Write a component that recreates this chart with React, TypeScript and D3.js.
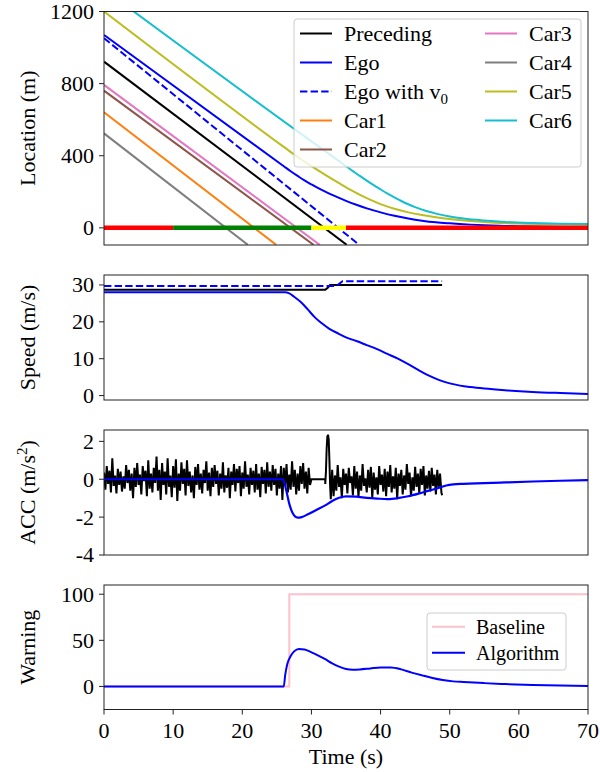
import React from "react";
import * as d3 from "d3";

type P = [number, number];

// ---------- DATA ----------
const xTicks = [0, 10, 20, 30, 40, 50, 60, 70];
const locTicks = [0, 400, 800, 1200];
const speedTicks = [0, 10, 20, 30];
const accTicks = [-4, -2, 0, 2];
const warnTicks = [0, 50, 100];

// Location (m) vs time (s)
const locPreceding: P[] = [[0, 922], [35.1, -94]];
const locEgoV0: P[] = [[0, 1052], [36.9, -94]];
const locCar1: P[] = [[0, 641], [24.9, -94]];
const locCar2: P[] = [[0, 761], [30.3, -94]];
const locCar3: P[] = [[0, 793], [31.2, -94]];
const locCar4: P[] = [[0, 524], [20.8, -94]];
const locEgo: P[] = [[0, 1070], [26, 342], [27, 314], [28, 288], [29, 263], [30, 241], [31, 220], [32, 201], [33, 183], [34, 166], [35, 150], [36.5, 128], [38, 108], [40, 86], [42, 67], [44, 52], [46, 40], [48, 31], [50, 25], [53, 18], [56, 13], [60, 9], [65, 6], [70, 4]];
const locCar5: P[] = [[0, 1200], [26, 449], [28, 393], [30, 342], [32, 294], [34, 248], [36, 204], [38, 165], [40, 132], [42, 106], [44, 86], [46, 71], [48, 59], [50, 49], [53, 38], [56, 30], [60, 24], [65, 20], [70, 17]];
const locCar6: P[] = [[0, 1322], [30, 480], [32, 425], [34, 370], [35, 342], [36, 315], [37, 288], [38, 262], [39, 237], [40, 213], [41, 190], [42, 169], [43, 149], [44, 131], [45, 115], [46, 101], [47, 89], [48, 79], [50, 63], [52, 52], [55, 41], [58, 33], [62, 27], [66, 23], [70, 21]];

// Traffic light phases
const lightStart = [0, 10, 30, 35];
const lightEnd = [10, 30, 35, 70];
const lightColor = ["#ff0000", "#008000", "#ffff00", "#ff0000"];

// Speed (m/s)
const speedPreceding: P[] = [[0, 28.7], [32.0, 28.7], [32.4, 29.3], [32.7, 30.0], [48.9, 30.0]];
const speedEgoV0: P[] = [[0, 29.7], [33.6, 29.7], [34.5, 31.0], [48.9, 31.0]];
const speedEgo: P[] = [[0, 28], [26.2, 28], [26.8, 27.7], [27.5, 26.8], [28.5, 25.3], [29.5, 23.3], [30.5, 21.2], [31.5, 19.6], [32.6, 18.1], [33.8, 16.9], [35, 15.8], [36.5, 14.8], [38, 13.7], [39.5, 12.6], [41, 11.3], [42.5, 10], [44, 8.5], [45.5, 6.9], [47, 5.4], [48.5, 4.2], [50, 3.3], [51.5, 2.7], [53, 2.3], [55, 1.9], [58, 1.45], [62, 1.0], [66, 0.7], [70, 0.45]];

// ACC (m/s^2): preceding, sampled every 0.2 s
const accPrecA = [
  0.35, -0.55, 0.7, -0.25, 0.45, -0.7, 1.1, -0.35, 0.2, -0.75,
  0.55, -0.3, 0.4, -0.65, 0.15, -0.5, 0.75, -0.2, 0.5, -0.6,
  0.3, -1.0, 0.6, -0.4, 0.85, -0.3, 0.25, -0.8, 0.7, -0.1,
  0.45, -0.9, 1.0, -0.5, 0.3, -0.7, 0.6, -0.2, 1.2, -0.6,
  0.5, -1.1, 0.85, -0.3, 0.4, -0.8, 1.1, -0.4, 0.2, -0.95,
  0.7, -0.45, 1.05, -1.15, 0.3, -0.6, 0.9, -0.25, 0.55, -0.85,
  1.0, -0.35, 0.4, -0.7, 0.2, -1.0, 0.65, -0.3, 0.8, -0.55,
  0.3, -0.75, 0.5, -0.2, 0.95, -0.6, 0.35, -0.9, 0.6, -0.4,
  0.75, -0.25, 0.45, -0.85, 0.3, -0.5, 0.9, -0.7, 0.2, -0.45,
  0.6, -1.0, 0.4, -0.3, 0.8, -0.65, 0.55, -0.2, 0.7, -0.9,
  0.35, -0.5, 0.95, -0.4, 0.25, -0.8, 0.6, -0.3, 0.45, -0.7,
  0.8, -0.55, 0.3, -0.95, 0.65, -0.25, 0.5, -0.75, 0.9, -0.4,
  0.4, -0.6, 0.75, -0.3, 0.55, -0.85, 0.3, -0.5, 0.7, -1.1,
  0.6, -0.35, 0.8, -0.7, 0.25, -0.55, 0.95, -0.4, 0.5, -0.8,
  0.3, -0.6, 0.7, -0.25, 0.85, -0.5, 0.4, -0.75, 0.6, -0.3,
];
const accPrecStartA = 0;
const accPrecMid: P[] = [[30.0, 0], [32.0, 0], [32.0, -0.25], [32.1, 0.4], [32.2, 1.6], [32.3, 2.25], [32.4, 2.35], [32.5, 2.1], [32.6, 1.0], [32.7, -0.3], [32.8, -1.05]];
const accPrecB = [
  0.5, -0.9, 0.2, -0.6, 0.75, -0.4, 0.1, -1.0, 0.55, -0.3,
  0.3, -0.75, 0.6, -0.2, 0.15, -0.85, 0.7, -0.5, 0.4, -0.95,
  0.2, -0.6, 0.8, -0.35, 0.05, -0.7, 0.5, -0.45, 0.65, -1.0,
  0.35, -0.55, 0.1, -0.8, 0.7, -0.3, 0.25, -0.65, 0.55, -0.9,
  0.4, -0.4, 0.75, -0.7, 0.15, -0.5, 0.6, -1.05, 0.3, -0.35,
  0.5, -0.8, 0.2, -0.55, 0.8, -0.25, 0.35, -0.9, 0.1, -0.6,
  0.65, -0.4, 0.3, -0.75, 0.55, -0.3, 0.7, -0.85, 0.2, -0.5,
  0.45, -0.65, 0.6, -0.35, 0.25, -0.8, 0.5, -0.45, 0.3, -0.7,
];
const accPrecStartB = 33.0;
const accSampleStep = 0.2;
const accEgo: P[] = [[0, 0], [25.9, 0], [26.3, -0.5], [26.8, -1.3], [27.3, -1.8], [28.0, -2.03], [28.6, -2.0], [29.5, -1.85], [30.7, -1.62], [32.0, -1.38], [33.0, -1.15], [34.0, -0.98], [35.0, -0.9], [36.5, -0.92], [38.0, -0.98], [39.5, -1.02], [41.0, -1.05], [42.5, -1.0], [44.0, -0.9], [45.5, -0.76], [47.0, -0.6], [48.5, -0.45], [49.5, -0.33], [50.5, -0.27], [52, -0.24], [55, -0.21], [58, -0.17], [62, -0.12], [66, -0.08], [70, -0.05]];

// Warning
const warnBaseline: P[] = [[0, 0], [26.8, 0], [26.8, 100], [70, 100]];
const warnAlgorithm: P[] = [[0, 0], [26.0, 0], [26.2, 12], [26.5, 24], [27.0, 33], [27.5, 38], [28.2, 40.5], [29.0, 40], [30.0, 37], [31.0, 33.5], [32.0, 29.5], [33.0, 25], [34.0, 21.5], [35.0, 19], [36.0, 18.2], [37.0, 18.5], [38.5, 19.5], [40, 20.5], [41.5, 20.5], [43, 18.5], [44.5, 15], [46, 12], [47.5, 9.2], [49, 7], [50.5, 5.5], [52, 4.8], [55, 3.6], [58, 2.6], [62, 1.5], [66, 0.9], [70, 0.6]];

// ---------- LAYOUT ----------
const FONT = "'Liberation Serif', 'Times New Roman', serif";
const X0 = 104, X1 = 588;
const x = d3.scaleLinear().domain([0, 70]).range([X0, X1]);
const yLoc = d3.scaleLinear().domain([-95, 1200]).range([245, 11.5]);
const ySpeed = d3.scaleLinear().domain([-1.2, 32.7]).range([400, 275]);
const yAcc = d3.scaleLinear().domain([-4, 2.6]).range([555, 430]);
const yWarn = d3.scaleLinear().domain([-25, 110]).range([709.5, 585]);

const BLUE = "#0000ff";
const C1 = "#ff7f0e", C2 = "#8c564b", C3 = "#e377c2", C4 = "#7f7f7f", C5 = "#bcbd22", C6 = "#17becf";

function mkLine(y: d3.ScaleLinear<number, number>, curve: d3.CurveFactory = d3.curveLinear) {
  return d3.line<P>().x((d) => x(d[0])).y((d) => y(d[1])).curve(curve);
}

function sampled(vals: number[], start: number): P[] {
  return vals.map((v, i) => [start + i * accSampleStep, v] as P);
}

function Frame({ y, id, ticks }: { y: d3.ScaleLinear<number, number>; id: string; ticks: number[] }) {
  const [b, t] = y.range();
  return (
    <g>
      <rect x={X0} y={t} width={X1 - X0} height={b - t} fill="none" stroke="#222" strokeWidth={1} />
      {ticks.map((v) => (
        <g key={id + v}>
          <line x1={X0 - 5} x2={X0} y1={y(v)} y2={y(v)} stroke="#222" strokeWidth={1} />
          <text x={X0 - 10} y={y(v)} dy="0.34em" textAnchor="end" fontSize={22} fontFamily={FONT} fill="#000">
            {String(v)}
          </text>
        </g>
      ))}
    </g>
  );
}

function YLabel({ y, children }: { y: d3.ScaleLinear<number, number>; children: React.ReactNode }) {
  const [b, t] = y.range();
  const cy = (b + t) / 2;
  return (
    <text transform={`translate(35,${cy}) rotate(-90)`} textAnchor="middle" fontSize={22} fontFamily={FONT} fill="#000">
      {children}
    </text>
  );
}

function Clip({ id, y }: { id: string; y: d3.ScaleLinear<number, number> }) {
  const [b, t] = y.range();
  return (
    <clipPath id={id}>
      <rect x={X0} y={t} width={X1 - X0} height={b - t} />
    </clipPath>
  );
}

export default function App() {
  const lLoc = mkLine(yLoc);
  const lLocS = mkLine(yLoc, d3.curveMonotoneX);
  const lSpd = mkLine(ySpeed);
  const lSpdS = mkLine(ySpeed, d3.curveMonotoneX);
  const lAcc = mkLine(yAcc);
  const lAccS = mkLine(yAcc, d3.curveMonotoneX);
  const lWarn = mkLine(yWarn);
  const lWarnS = mkLine(yWarn, d3.curveMonotoneX);

  const accPrec: P[] = [...sampled(accPrecA, accPrecStartA), ...accPrecMid, ...sampled(accPrecB, accPrecStartB), [48.9, -0.85]];

  const legend1 = [
    { label: "Preceding", color: "#000", dash: "" },
    { label: "Ego", color: BLUE, dash: "" },
    { label: "EGOV0", color: BLUE, dash: "7.4,3.2" },
    { label: "Car1", color: C1, dash: "" },
    { label: "Car2", color: C2, dash: "" },
    { label: "Car3", color: C3, dash: "" },
    { label: "Car4", color: C4, dash: "" },
    { label: "Car5", color: C5, dash: "" },
    { label: "Car6", color: C6, dash: "" },
  ];

  return (
    <svg width={600} height={772} viewBox="0 0 600 772" style={{ display: "block", position: "absolute", left: 0, top: 0 }}>
      <rect x={0} y={0} width={600} height={772} fill="#fff" />
      <defs>
        <Clip id="c1" y={yLoc} />
        <Clip id="c2" y={ySpeed} />
        <Clip id="c3" y={yAcc} />
        <Clip id="c4" y={yWarn} />
      </defs>

      {/* Panel 1: Location */}
      <g clipPath="url(#c1)" fill="none" strokeWidth={2}>
        <path d={lLoc(locPreceding) || ""} stroke="#000" />
        <path d={lLocS(locEgo) || ""} stroke={BLUE} />
        <path d={lLoc(locEgoV0) || ""} stroke={BLUE} strokeDasharray="7.4,3.2" />
        <path d={lLoc(locCar1) || ""} stroke={C1} />
        <path d={lLoc(locCar2) || ""} stroke={C2} />
        <path d={lLoc(locCar3) || ""} stroke={C3} />
        <path d={lLoc(locCar4) || ""} stroke={C4} />
        <path d={lLocS(locCar5) || ""} stroke={C5} />
        <path d={lLocS(locCar6) || ""} stroke={C6} />
        {lightStart.map((s, i) => (
          <line key={"l" + i} x1={x(s)} x2={x(lightEnd[i])} y1={yLoc(0)} y2={yLoc(0)} stroke={lightColor[i]} strokeWidth={4.5} />
        ))}
      </g>
      <Frame y={yLoc} id="a" ticks={locTicks} />
      <YLabel y={yLoc}>Location (m)</YLabel>
      {/* Legend 1 */}
      <g>
        <rect x={294} y={19} width={287} height={148} rx={3} fill="#fff" fillOpacity={0.8} stroke="#cccccc" strokeWidth={1} />
        {legend1.map((e, i) => {
          const col = i < 5 ? 0 : 1;
          const row = i < 5 ? i : i - 5;
          const cy = 33.5 + row * 29;
          const hx = col === 0 ? 300 : 485;
          const tx = col === 0 ? 344 : 529;
          return (
            <g key={"lg" + i}>
              <line x1={hx} x2={hx + 32} y1={cy} y2={cy} stroke={e.color} strokeWidth={2} strokeDasharray={e.dash || undefined} />
              <text x={tx} y={cy} dy="0.34em" fontSize={22} fontFamily={FONT} fill="#000">
                {e.label === "EGOV0" ? (
                  <>
                    Ego with v<tspan fontSize={15} dy="5">0</tspan>
                  </>
                ) : (
                  e.label
                )}
              </text>
            </g>
          );
        })}
      </g>

      {/* Panel 2: Speed */}
      <g clipPath="url(#c2)" fill="none" strokeWidth={2}>
        <path d={lSpd(speedPreceding) || ""} stroke="#000" />
        <path d={lSpdS(speedEgo) || ""} stroke={BLUE} />
        <path d={lSpd(speedEgoV0) || ""} stroke={BLUE} strokeDasharray="7.4,3.2" />
      </g>
      <Frame y={ySpeed} id="b" ticks={speedTicks} />
      <YLabel y={ySpeed}>Speed (m/s)</YLabel>

      {/* Panel 3: ACC */}
      <g clipPath="url(#c3)" fill="none">
        <path d={lAcc(accPrec) || ""} stroke="#000" strokeWidth={2} strokeLinejoin="miter" />
        <path d={lAccS(accEgo) || ""} stroke={BLUE} strokeWidth={2.2} />
      </g>
      <Frame y={yAcc} id="c" ticks={accTicks} />
      <YLabel y={yAcc}>
        <>
          ACC (m/s<tspan fontSize={15} dy="-8">2</tspan>
          <tspan dy="8">)</tspan>
        </>
      </YLabel>

      {/* Panel 4: Warning */}
      <g clipPath="url(#c4)" fill="none" strokeWidth={2}>
        <path d={lWarn(warnBaseline) || ""} stroke="#ffc0cb" />
        <path d={lWarnS(warnAlgorithm) || ""} stroke={BLUE} />
      </g>
      <Frame y={yWarn} id="d" ticks={warnTicks} />
      <YLabel y={yWarn}>Warning</YLabel>
      <g>
        <rect x={427} y={613} width={139} height={57} rx={3} fill="#fff" fillOpacity={0.8} stroke="#cccccc" strokeWidth={1} />
        <line x1={432} x2={465} y1={626.7} y2={626.7} stroke="#ffc0cb" strokeWidth={2} />
        <text x={476} y={626.7} dy="0.34em" fontSize={20} fontFamily={FONT} fill="#000">Baseline</text>
        <line x1={432} x2={465} y1={652.7} y2={652.7} stroke={BLUE} strokeWidth={2} />
        <text x={476} y={652.7} dy="0.34em" fontSize={20} fontFamily={FONT} fill="#000">Algorithm</text>
      </g>

      {/* X axis */}
      {xTicks.map((t) => (
        <g key={"xt" + t}>
          <line x1={x(t)} x2={x(t)} y1={709.5} y2={714.5} stroke="#222" strokeWidth={1} />
          <text x={x(t)} y={738} textAnchor="middle" fontSize={22} fontFamily={FONT} fill="#000">{t}</text>
        </g>
      ))}
      <text x={(X0 + X1) / 2} y={764} textAnchor="middle" fontSize={22} fontFamily={FONT} fill="#000">Time (s)</text>
    </svg>
  );
}
